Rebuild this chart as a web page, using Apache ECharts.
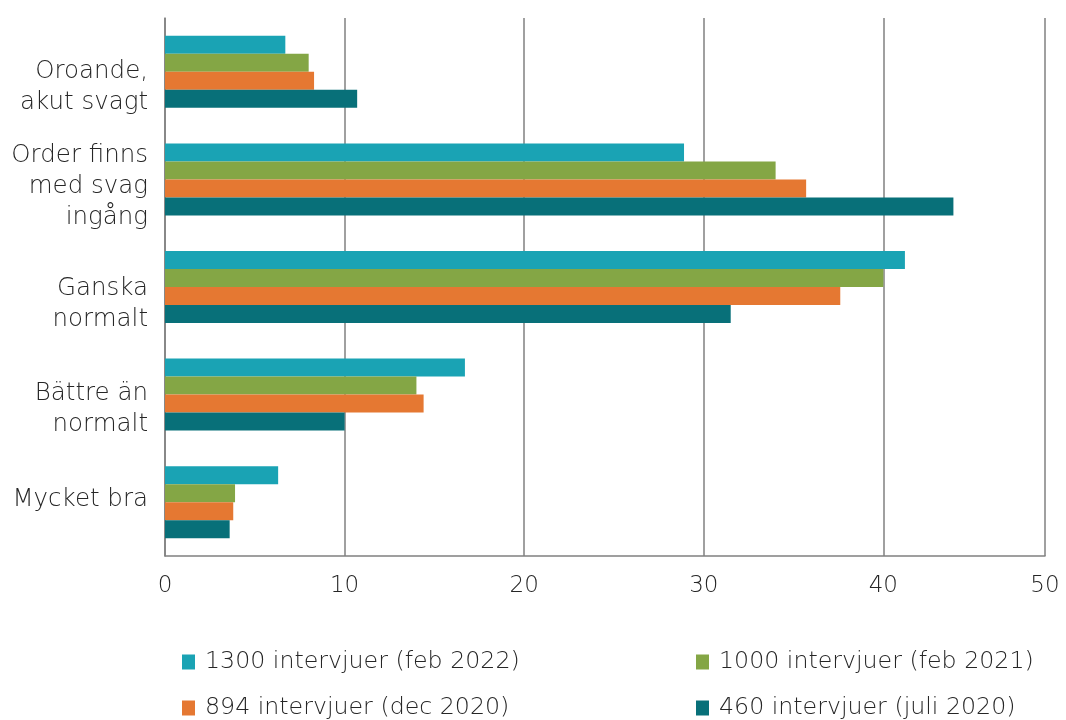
<!DOCTYPE html>
<html>
<head>
<meta charset="utf-8">
<script src="https://cdn.jsdelivr.net/npm/echarts@6/dist/echarts.min.js"></script>
<style>html,body{margin:0;padding:0;background:#fff}#c{width:1066px;height:720px}</style>
</head>
<body>
<div id="c"></div>
<script>
const categories = ["Oroande,\nakut svagt", "Order finns\nmed svag\ningång", "Ganska\nnormalt", "Bättre än\nnormalt", "Mycket bra"];
const seriesNames = ["1300 intervjuer (feb 2022)", "1000 intervjuer (feb 2021)", "894 intervjuer (dec 2020)", "460 intervjuer (juli 2020)"];
const feb2022 = [6.7, 28.9, 41.2, 16.7, 6.3];
const feb2021 = [8.0, 34.0, 40.0, 14.0, 3.9];
const dec2020 = [8.3, 35.7, 37.6, 14.4, 3.8];
const juli2020 = [10.7, 43.9, 31.5, 10.0, 3.6];
const tickLabels = ["0", "10", "20", "30", "40", "50"];
const colors = ["#1aa3b4", "#84a645", "#e57832", "#087079"];

const FONT = "'DejaVu Sans', 'Open Sans', sans-serif";
const TXT = "#262626";
const chart = echarts.init(document.getElementById('c'));
const values = [feb2022, feb2021, dec2020, juli2020];
// vertical label nudges: [spacer above, spacer below] in px
const labelNudge = [[30, 0], [14, 0], [34, 0], [29, 0], [0, 6]];
const rich = {};
labelNudge.forEach((n, i) => {
  rich['t' + i] = {lineHeight: n[0] || 1, fontSize: 1};
  rich['b' + i] = {lineHeight: n[1] || 1, fontSize: 1};
});
const legendPos = [[182, 650], [696, 650], [182, 696], [696, 696]];
const legendText = {fontFamily: FONT, fontSize: 23.7, color: TXT, fontWeight: 200, padding: [0, 0, 0, 5]};
chart.setOption({
  animation: false,
  grid: {left: 165, right: 21, top: 18, bottom: 164, containLabel: false},
  legend: seriesNames.map((n, i) => ({
    left: legendPos[i][0], top: legendPos[i][1], itemWidth: 13, itemHeight: 15,
    icon: 'rect', data: [n], textStyle: legendText, padding: 0, selectedMode: false
  })),
  xAxis: {
    type: 'value', min: 0, max: 49, interval: 10,
    axisLine: {show: true, lineStyle: {color: '#808080', width: 1.5}},
    axisTick: {show: false},
    splitLine: {show: true, lineStyle: {color: '#808080', width: 1.5}},
    axisLabel: {
      show: true, showMaxLabel: true, margin: 19,
      fontFamily: FONT, fontSize: 23, color: TXT, fontWeight: 200,
      formatter: function (v) { return v > 45 ? tickLabels[5] : tickLabels[Math.round(v / 10)]; }
    }
  },
  yAxis: {
    type: 'category', inverse: true, data: categories,
    axisLine: {show: true, lineStyle: {color: '#808080', width: 1.5}},
    axisTick: {show: false},
    axisLabel: {margin: 17, fontFamily: FONT, fontSize: 24.5, color: TXT, fontWeight: 200,
      lineHeight: 31, align: 'right', rich: rich,
      formatter: function (v, i) {
        const n = labelNudge[i];
        let s = v;
        if (n[0]) s = '{t' + i + '|\u00a0}\n' + s;
        if (n[1]) s = s + '\n{b' + i + '|\u00a0}';
        return s;
      }}
  },
  series: values.map((d, i) => ({
    name: seriesNames[i], type: 'bar', data: d, barWidth: 18, barGap: '0%',
    itemStyle: {color: colors[i]}
  }))
});
</script>
</body>
</html>
